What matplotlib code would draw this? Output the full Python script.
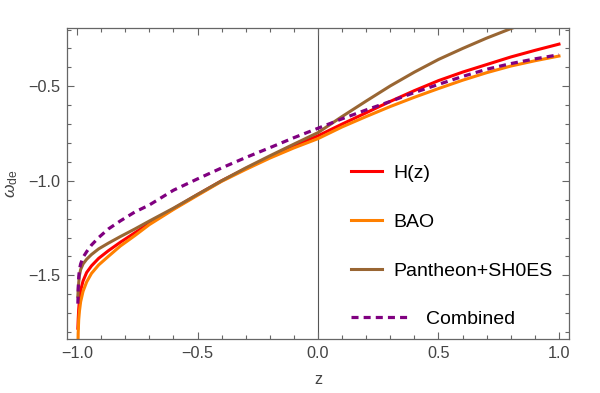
import matplotlib
matplotlib.use("Agg")
import matplotlib.pyplot as plt
from matplotlib.ticker import MultipleLocator

plt.rcParams['font.family'] = ['Liberation Sans', 'DejaVu Sans']
plt.rcParams['mathtext.fontset'] = 'custom'
plt.rcParams['mathtext.rm'] = 'Liberation Sans'
plt.rcParams['mathtext.it'] = 'Liberation Sans:italic'

# redshift grid (dense near z = -1 where the curves turn vertical)
z = [-0.9965, -0.995, -0.993, -0.99, -0.985, -0.975, -0.96, -0.94, -0.91, -0.87,
     -0.82, -0.76, -0.7, -0.6, -0.5, -0.4, -0.3, -0.2, -0.1, 0.0,
     0.1, 0.2, 0.3, 0.4, 0.5, 0.6, 0.7, 0.8, 0.9, 1.0]

# omega_de(z)
w_hz = [-1.78, -1.73, -1.68, -1.63, -1.58, -1.53, -1.485, -1.45, -1.41, -1.37,
        -1.325, -1.275, -1.225, -1.148, -1.073, -1.0, -0.935, -0.873, -0.815, -0.762,
        -0.70, -0.64, -0.58, -0.523, -0.47, -0.425, -0.385, -0.345, -0.31, -0.277]
w_bao = [-1.90, -1.80, -1.735, -1.69, -1.64, -1.585, -1.535, -1.49, -1.445, -1.40,
         -1.345, -1.29, -1.232, -1.152, -1.077, -1.003, -0.94, -0.88, -0.826, -0.777,
         -0.715, -0.66, -0.607, -0.558, -0.512, -0.468, -0.428, -0.393, -0.365, -0.34]
w_pan = [-1.61, -1.575, -1.54, -1.50, -1.47, -1.44, -1.415, -1.39, -1.36, -1.33,
         -1.295, -1.255, -1.213, -1.145, -1.072, -1.0, -0.932, -0.868, -0.806, -0.745,
         -0.66, -0.578, -0.498, -0.425, -0.358, -0.30, -0.245, -0.195, -0.15, -0.105]
w_comb = [-1.65, -1.57, -1.51, -1.47, -1.44, -1.405, -1.375, -1.34, -1.30, -1.255,
          -1.212, -1.165, -1.128, -1.05, -0.99, -0.932, -0.877, -0.825, -0.772, -0.722,
          -0.672, -0.625, -0.58, -0.533, -0.49, -0.448, -0.41, -0.38, -0.355, -0.333]

labels = ["H(z)", "BAO", "Pantheon+SH0ES", "Combined"]
colors = ["#ff0000", "#ff8000", "#996633", "#800080"]

fig = plt.figure(figsize=(6, 3.93), dpi=100)
ax = fig.add_axes([0.1117, 0.1374, 0.8366, 0.7914])

lw = 2.2
l1, = ax.plot(z, w_hz, color=colors[0], lw=lw, label=labels[0])
l2, = ax.plot(z, w_bao, color=colors[1], lw=lw, label=labels[1])
l3, = ax.plot(z, w_pan, color=colors[2], lw=lw, label=labels[2])
l4, = ax.plot(z, w_comb, color=colors[3], lw=2.3, ls=(0, (2.2, 1.6)), label=labels[3])

ax.axvline(0, color="#555555", lw=0.8, zorder=0)

ax.set_xlim(-1.0415, 1.0415)
ax.set_ylim(-1.837, -0.1915)
ax.set_xticks([-1.0, -0.5, 0.0, 0.5, 1.0])
ax.set_yticks([-1.5, -1.0, -0.5])
ax.xaxis.set_minor_locator(MultipleLocator(0.1))
ax.yaxis.set_minor_locator(MultipleLocator(0.1))

frame_col = "#666666"
for s in ax.spines.values():
    s.set_color(frame_col)
    s.set_linewidth(0.9)
ax.tick_params(which="both", direction="in", top=True, right=True,
               color=frame_col, width=0.8, labelcolor="#444444", labelsize=11.7)
ax.tick_params(which="major", length=5, pad=5)
ax.tick_params(which="minor", length=3)

ax.set_xlabel("z", fontsize=11.7, color="#444444", labelpad=8)
ax.set_ylabel(r"$\omega_{\rm de}$", fontsize=12.5, color="#444444", labelpad=6)

leg1 = ax.legend(handles=[l1, l2, l3], loc="center left", bbox_to_anchor=(0.5657, 0.375),
                 frameon=False, fontsize=14, handlelength=1.57, handletextpad=0.6,
                 labelspacing=1.62, borderpad=0, borderaxespad=0)
ax.add_artist(leg1)
ax.legend(handles=[l4], loc="center left", bbox_to_anchor=(0.5657, 0.064),
          frameon=False, fontsize=14, handlelength=3.08, handletextpad=0.76,
          borderpad=0, borderaxespad=0)

fig.savefig("out.png", dpi=100)
